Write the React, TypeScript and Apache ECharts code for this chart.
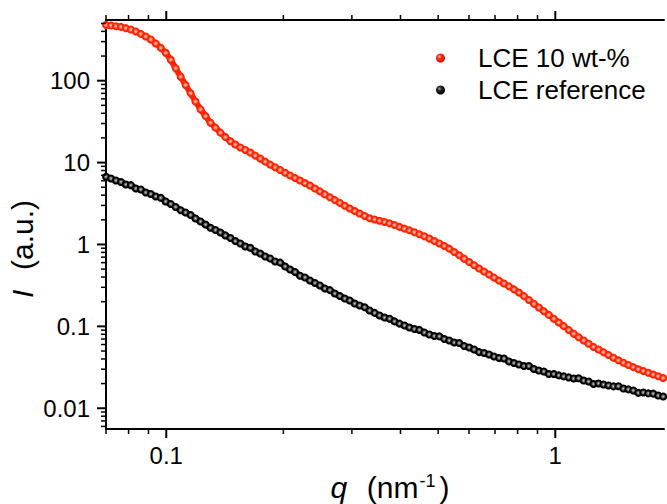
import React, { useEffect, useRef } from "react";
import * as echarts from "echarts";

const FONT = '"Liberation Sans", Arial, Helvetica, sans-serif';

// scattering vector q (nm^-1)
const qValues = [
  0.0700, 0.07209, 0.07425, 0.07647, 0.07875, 0.08111, 0.08353, 0.08603, 0.08860, 0.09125,
  0.09398, 0.09679, 0.09968, 0.1027, 0.1057, 0.1089, 0.1121, 0.1155, 0.1189, 0.1225,
  0.1262, 0.1299, 0.1338, 0.1378, 0.1419, 0.1462, 0.1505, 0.1550, 0.1597, 0.1644,
  0.1694, 0.1744, 0.1796, 0.1850, 0.1905, 0.1962, 0.2021, 0.2081, 0.2143, 0.2207,
  0.2273, 0.2341, 0.2411, 0.2483, 0.2557, 0.2634, 0.2712, 0.2793, 0.2877, 0.2963,
  0.3051, 0.3142, 0.3236, 0.3333, 0.3433, 0.3535, 0.3641, 0.3750, 0.3862, 0.3977,
  0.4096, 0.4218, 0.4344, 0.4474, 0.4608, 0.4746, 0.4888, 0.5034, 0.5184, 0.5339,
  0.5499, 0.5663, 0.5832, 0.6007, 0.6186, 0.6371, 0.6562, 0.6758, 0.6960, 0.7168,
  0.7382, 0.7603, 0.7830, 0.8064, 0.8305, 0.8553, 0.8809, 0.9072, 0.9343, 0.9623,
  0.9910, 1.021, 1.051, 1.083, 1.115, 1.148, 1.183, 1.218, 1.254, 1.292,
  1.330, 1.370, 1.411, 1.453, 1.497, 1.541, 1.587, 1.635, 1.684, 1.734,
  1.786, 1.839, 1.894,
];

// LCE 10 wt-% intensity (a.u.)
const lce10 = [
  479, 471, 463, 454, 438, 422, 399, 373, 347, 319,
  285, 252, 219, 180, 142, 112, 88.6, 70.2, 55.7, 44.6,
  36.9, 30.7, 26.7, 23.2, 20.5, 18.2, 16.6, 15.3, 14.25, 13.25,
  12.17, 11.19, 10.28, 9.45, 8.76, 8.12, 7.51, 6.96, 6.49, 6.05,
  5.63, 5.24, 4.83, 4.45, 4.09, 3.77, 3.48, 3.22, 2.97, 2.75,
  2.56, 2.39, 2.23, 2.09, 2.02, 1.95, 1.88, 1.81, 1.73, 1.64,
  1.56, 1.49, 1.41, 1.33, 1.26, 1.18, 1.10, 1.03, 0.959, 0.889,
  0.810, 0.738, 0.671, 0.611, 0.557, 0.508, 0.467, 0.429, 0.394, 0.362,
  0.334, 0.308, 0.283, 0.259, 0.234, 0.210, 0.189, 0.170, 0.153, 0.138,
  0.124, 0.1116, 0.1006, 0.0904, 0.0814, 0.0736, 0.0673, 0.0613, 0.0560, 0.0521,
  0.0483, 0.0448, 0.0414, 0.0385, 0.0360, 0.0338, 0.0318, 0.0299, 0.0285, 0.0271,
  0.0258, 0.0246, 0.0234,
];

// LCE reference intensity (a.u.)
const lceRef = [
  6.73, 6.40, 6.05, 5.80, 5.40, 5.30, 4.83, 4.70, 4.31, 4.14,
  3.86, 3.72, 3.35, 3.12, 2.87, 2.62, 2.46, 2.29, 2.08, 1.91,
  1.75, 1.60, 1.50, 1.40, 1.29, 1.20, 1.10, 1.03, 0.945, 0.910,
  0.821, 0.776, 0.714, 0.675, 0.620, 0.600, 0.539, 0.495, 0.461, 0.415,
  0.396, 0.363, 0.339, 0.316, 0.290, 0.277, 0.252, 0.235, 0.219, 0.207,
  0.190, 0.180, 0.171, 0.156, 0.146, 0.136, 0.128, 0.124, 0.115, 0.108,
  0.1025, 0.0970, 0.0930, 0.0905, 0.0842, 0.0796, 0.0763, 0.0755, 0.0702, 0.0673,
  0.0636, 0.0625, 0.0576, 0.0553, 0.0522, 0.0485, 0.0473, 0.0454, 0.0429, 0.0411,
  0.0405, 0.0373, 0.0357, 0.0343, 0.0328, 0.0328, 0.0302, 0.0289, 0.0281, 0.0262,
  0.0262, 0.0252, 0.0245, 0.0238, 0.0231, 0.0232, 0.0218, 0.0212, 0.0198, 0.0201,
  0.0195, 0.0190, 0.0185, 0.0186, 0.0174, 0.0170, 0.0165, 0.0154, 0.0156, 0.0152,
  0.0151, 0.0143, 0.0139,
];

const seriesNames = ["LCE 10 wt-%", "LCE reference"];

// axis ticks
const xMajorTicks = [0.1, 1];
const xMinorTicks = [0.07, 0.08, 0.09, 0.2, 0.3, 0.4, 0.5, 0.6, 0.7, 0.8, 0.9];
const yMajorTicks = [0.01, 0.1, 1, 10, 100];
const yMinorTicks = [
  0.006, 0.007, 0.008, 0.009,
  0.02, 0.03, 0.04, 0.05, 0.06, 0.07, 0.08, 0.09,
  0.2, 0.3, 0.4, 0.5, 0.6, 0.7, 0.8, 0.9,
  2, 3, 4, 5, 6, 7, 8, 9,
  20, 30, 40, 50, 60, 70, 80, 90,
  200, 300, 400, 500,
];

const X_MIN = 0.07;
const X_MAX = 1.903;
const Y_MIN = 0.00558;
const Y_MAX = 551;

function powLabel(v: number): string {
  const l = Math.log10(v);
  const e = Math.round(l);
  if (Math.abs(l - e) > 1e-6) return "";
  return String(Number(Math.pow(10, e).toPrecision(1)));
}

const RED = "#ff2400";
const redFill = {
  type: "radial", x: 0.5, y: 0.5, r: 0.5,
  colorStops: [
    { offset: 0, color: "#ffd0c8" },
    { offset: 0.3, color: "#ff9080" },
    { offset: 0.65, color: RED },
    { offset: 1, color: RED },
  ],
};
const blackFill = {
  type: "radial", x: 0.5, y: 0.5, r: 0.5,
  colorStops: [
    { offset: 0, color: "#c8c8c8" },
    { offset: 0.3, color: "#7a7a7a" },
    { offset: 0.65, color: "#000000" },
    { offset: 1, color: "#000000" },
  ],
};
const redBall = {
  type: "radial", x: 0.38, y: 0.35, r: 0.65,
  colorStops: [
    { offset: 0, color: "#ffb0a0" },
    { offset: 0.4, color: "#ff2a10" },
    { offset: 1, color: "#d01000" },
  ],
};
const blackBall = {
  type: "radial", x: 0.38, y: 0.35, r: 0.65,
  colorStops: [
    { offset: 0, color: "#a0a0a0" },
    { offset: 0.4, color: "#202020" },
    { offset: 1, color: "#000000" },
  ],
};

export default function App() {
  const ref = useRef<HTMLDivElement>(null);
  useEffect(() => {
    if (!ref.current) return;
    const chart = echarts.init(ref.current, undefined, { renderer: "svg" });

    const tickData: number[][] = [];
    xMajorTicks.forEach((v) => tickData.push([v, 1, 1]));
    xMinorTicks.forEach((v) => tickData.push([v, 1, 0]));
    yMajorTicks.forEach((v) => tickData.push([1, v, 3]));
    yMinorTicks.forEach((v) => tickData.push([1, v, 2]));

    const lineStyle = (w: number) => ({ stroke: "#000", lineWidth: w });

    const renderTicks = (params: any, api: any) => {
      const cs = params.coordSys;
      const kind = api.value(2);
      if (kind < 2) {
        const len = kind === 1 ? 9 : 5;
        const w = kind === 1 ? 2 : 1.5;
        const px = api.coord([api.value(0), 1])[0];
        const bottom = cs.y + cs.height;
        return {
          type: "group",
          children: [
            { type: "line", shape: { x1: px, y1: bottom, x2: px, y2: bottom + len }, style: lineStyle(w) },
            { type: "line", shape: { x1: px, y1: cs.y, x2: px, y2: cs.y - len }, style: lineStyle(w) },
          ],
        };
      }
      const len = kind === 3 ? 9 : 5;
      const w = kind === 3 ? 2 : 1.5;
      const py = api.coord([1, api.value(1)])[1];
      return {
        type: "line",
        shape: { x1: cs.x, y1: py, x2: cs.x - len, y2: py },
        style: lineStyle(w),
      };
    };

    const axisLine = { show: true, onZero: false, lineStyle: { color: "#000", width: 2 } };
    const labelStyle = { color: "#000", fontSize: 24, fontFamily: FONT, formatter: powLabel };

    const redPts = qValues.map((q, i) => [q, lce10[i]]);
    const blackPts = qValues.map((q, i) => [q, lceRef[i]]);

    const option: any = {
      animation: false,
      backgroundColor: "#ffffff",
      grid: { left: 106, right: 0, top: 20, bottom: 75, containLabel: false },
      xAxis: [
        {
          type: "log", logBase: 10, min: X_MIN, max: X_MAX, position: "bottom",
          axisLine, axisTick: { show: false }, minorTick: { show: false },
          splitLine: { show: false },
          axisLabel: { ...labelStyle, margin: 14 },
        },
        {
          type: "log", logBase: 10, min: X_MIN, max: X_MAX, position: "top",
          axisLine, axisTick: { show: false }, minorTick: { show: false },
          splitLine: { show: false }, axisLabel: { show: false },
        },
      ],
      yAxis: {
        type: "log", logBase: 10, min: Y_MIN, max: Y_MAX,
        axisLine, axisTick: { show: false }, minorTick: { show: false },
        splitLine: { show: false },
        axisLabel: { ...labelStyle, margin: 16 },
      },
      legend: {
        orient: "vertical",
        left: 431,
        top: 40,
        itemWidth: 9,
        itemHeight: 9,
        itemGap: 6,
        icon: "circle",
        textStyle: { fontSize: 26, fontFamily: FONT, color: "#000", padding: [0, 0, 0, 28] },
        data: [
          { name: seriesNames[0], itemStyle: { color: redBall } },
          { name: seriesNames[1], itemStyle: { color: blackBall } },
        ],
      },
      graphic: [
        {
          type: "text",
          x: 390,
          y: 487,
          style: {
            text: "{i|q}{n|  (nm}{s|-1}{n|)}",
            rich: {
              i: { fontStyle: "italic", fontSize: 30, fontFamily: FONT, lineHeight: 30, fill: "#000", padding: [0, 3, 0, 0] },
              n: { fontSize: 30, fontFamily: FONT, lineHeight: 30, fill: "#000" },
              s: { fontSize: 18, fontFamily: FONT, lineHeight: 12, verticalAlign: "top", fill: "#000", padding: [0, 4, 0, 1] },
            },
            fontSize: 30,
            fontFamily: FONT,
            fill: "#000",
            align: "center",
            verticalAlign: "middle",
          },
        },
        {
          type: "text",
          x: 22,
          y: 249,
          rotation: Math.PI / 2,
          style: {
            text: "{i|I}{n|  (a.u.)}",
            rich: {
              i: { fontStyle: "italic", fontSize: 30, fontFamily: FONT, fill: "#000", padding: [0, 3, 0, 0] },
              n: { fontSize: 30, fontFamily: FONT, fill: "#000" },
            },
            fontSize: 30,
            fontFamily: FONT,
            fill: "#000",
            align: "center",
            verticalAlign: "middle",
          },
        },
      ],
      series: [
        {
          type: "line",
          name: "band-red",
          data: redPts,
          showSymbol: false,
          lineStyle: { color: RED, width: 6 },
          itemStyle: { color: RED },
          emphasis: { disabled: true },
          silent: true,
          z: 2,
        },
        {
          type: "scatter",
          name: seriesNames[0],
          data: redPts,
          symbol: "circle",
          symbolSize: 8,
          itemStyle: { color: redFill, opacity: 1 },
          emphasis: { disabled: true },
          z: 3,
        },
        {
          type: "line",
          name: "band-black",
          data: blackPts,
          showSymbol: false,
          lineStyle: { color: "#000", width: 6 },
          itemStyle: { color: "#000" },
          emphasis: { disabled: true },
          silent: true,
          z: 4,
        },
        {
          type: "scatter",
          name: seriesNames[1],
          data: blackPts,
          symbol: "circle",
          symbolSize: 8,
          itemStyle: { color: blackFill, opacity: 1 },
          emphasis: { disabled: true },
          z: 5,
        },
        {
          type: "custom",
          name: "ticks",
          coordinateSystem: "cartesian2d",
          clip: false,
          silent: true,
          data: tickData,
          encode: { x: 0, y: 1 },
          renderItem: renderTicks,
          z: 6,
        },
      ],
    };
    chart.setOption(option);
    return () => chart.dispose();
  }, []);

  return (
    <div
      ref={ref}
      style={{ position: "absolute", left: 0, top: 0, width: 667, height: 504, background: "#fff" }}
    />
  );
}
